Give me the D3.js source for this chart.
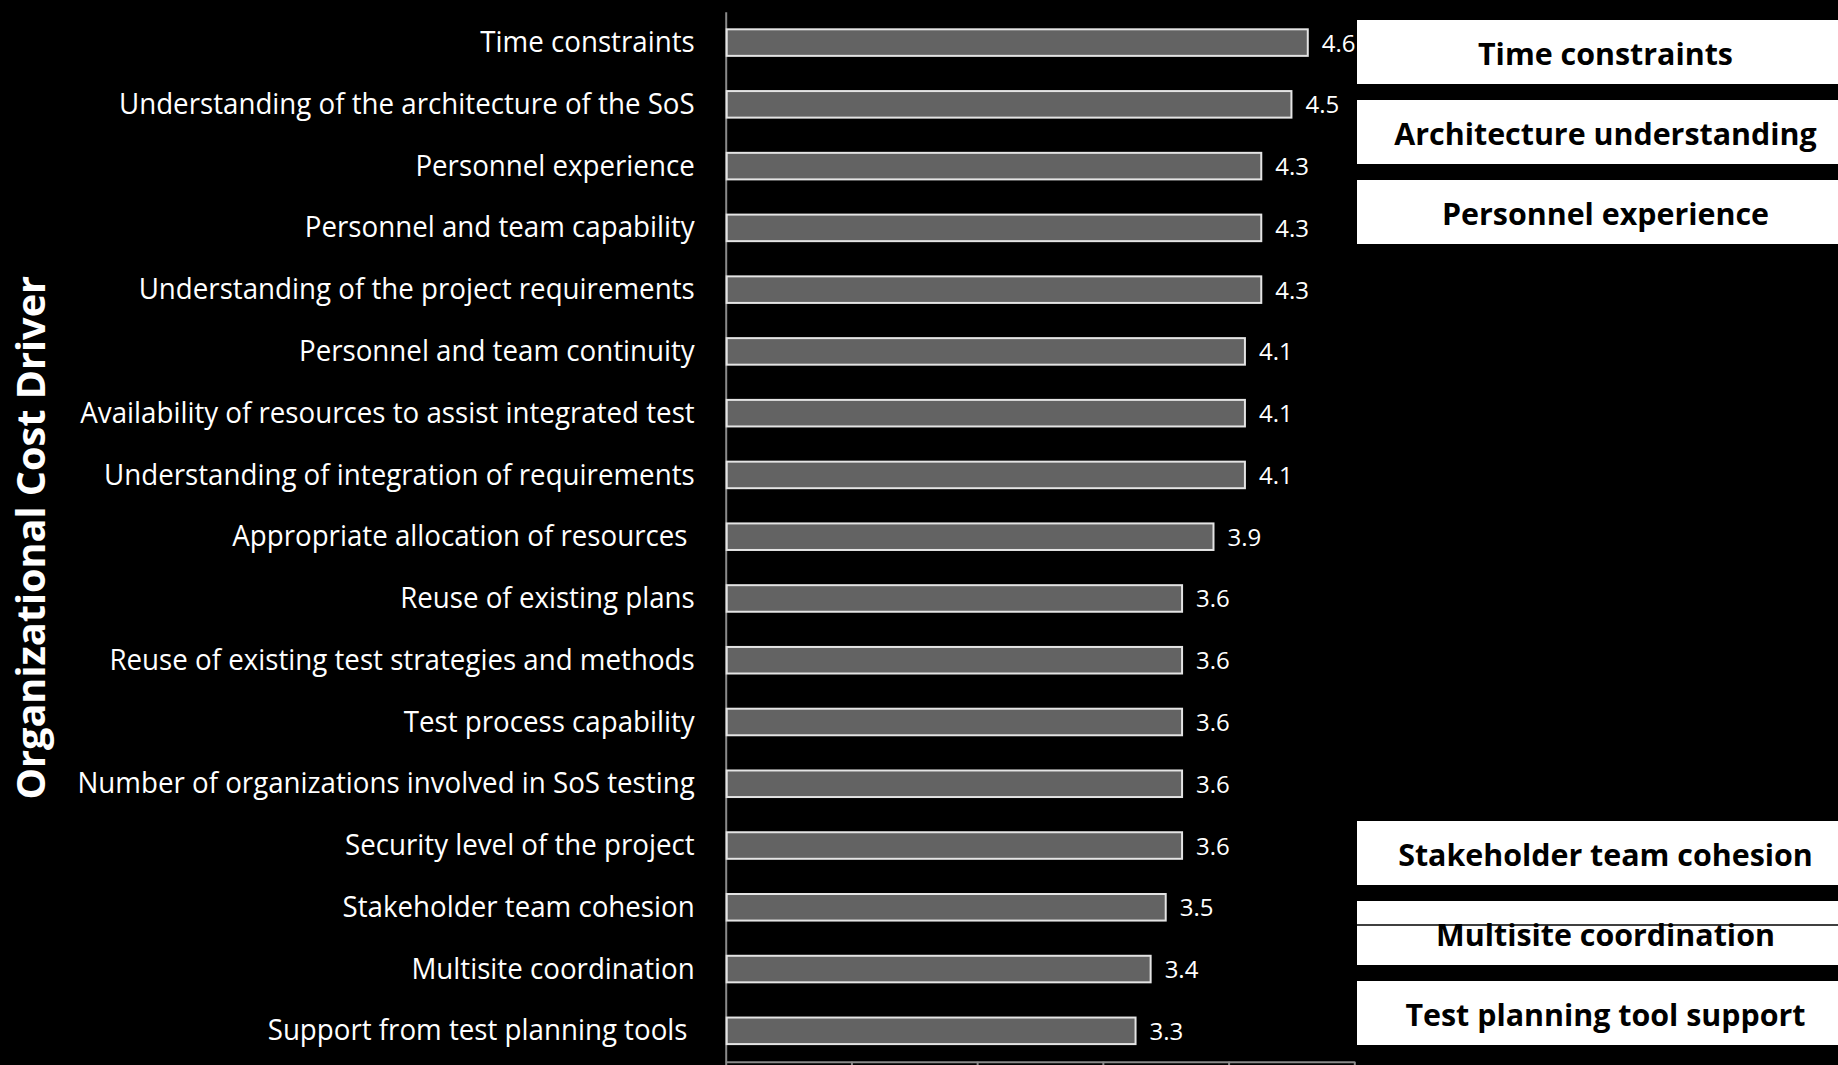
<!DOCTYPE html>
<html>
<head>
<meta charset="utf-8">
<script src="https://cdn.jsdelivr.net/npm/d3@7"></script>
<style>
  html, body { margin: 0; padding: 0; background: #000; overflow: hidden; }
  svg { display: block; }
</style>
</head>
<body>
<script>
// cost drivers, top to bottom
const categories = [
  "Time constraints",
  "Understanding of the architecture of the SoS",
  "Personnel experience",
  "Personnel and team capability",
  "Understanding of the project requirements",
  "Personnel and team continuity",
  "Availability of resources to assist integrated test",
  "Understanding of integration of requirements",
  "Appropriate allocation of resources ",
  "Reuse of existing plans",
  "Reuse of existing test strategies and methods",
  "Test process capability",
  "Number of organizations involved in SoS testing",
  "Security level of the project",
  "Stakeholder team cohesion",
  "Multisite coordination",
  "Support from test planning tools "
];
const values = [4.63, 4.50, 4.26, 4.26, 4.26, 4.13, 4.13, 4.13, 3.88,
  3.63, 3.63, 3.63, 3.63, 3.63, 3.50, 3.38, 3.26];
const xTicks = [0, 1, 2, 3, 4, 5];
const topDrivers = ["Time constraints", "Architecture understanding", "Personnel experience"];
const bottomDrivers = ["Stakeholder team cohesion", "Multisite coordination", "Test planning tool support"];
const yTitle = "Organizational Cost Driver";

const width = 1838,
  height = 1065;
const margin = { top: 11.7, left: 725.7, bottom: 1061.7, right: 1354.3 };

const svg = d3
  .select("body")
  .append("svg")
  .attr("width", width)
  .attr("height", height)
  .attr("viewBox", [0, 0, width, height])
  .style("background", "#000");

const data = categories.map((c, i) => ({ name: c, value: values[i] }));

const x = d3.scaleLinear().domain([0, 5]).range([margin.left, margin.right]);
const y = d3
  .scaleBand()
  .domain(categories)
  .range([margin.top, margin.bottom])
  .paddingInner(0.57)
  .paddingOuter(0.285);

// squeeze the substitute font a bit so it runs like Calibri
function condense(sel, k) {
  sel.each(function () {
    const w = this.getComputedTextLength();
    d3.select(this).attr("textLength", w * k).attr("lengthAdjust", "spacingAndGlyphs");
  });
}

// category labels via left axis
const yAxis = svg
  .append("g")
  .attr("transform", `translate(${margin.left},0)`)
  .call(d3.axisLeft(y).tickSize(0).tickPadding(31));
yAxis.select(".domain").attr("stroke", "#8a8a8a").attr("stroke-width", 2);
yAxis
  .selectAll("text")
  .attr("fill", "#fff")
  .attr("dy", "0.33em")
  .style("font-family", "'Open Sans', sans-serif")
  .style("font-size", "29px")
  .style("white-space", "pre")
  .call(condense, 0.955);

// bottom axis, ticks only (its labels sit below the frame)
const xAxis = svg
  .append("g")
  .attr("transform", `translate(0,${margin.bottom})`)
  .call(d3.axisBottom(x).tickValues(xTicks).tickSize(10).tickSizeOuter(0).tickFormat(""));
xAxis.select(".domain").attr("stroke", "#8a8a8a").attr("stroke-width", 2);
xAxis.selectAll("line").attr("stroke", "#8a8a8a").attr("stroke-width", 2);

// bars
svg
  .append("g")
  .selectAll("rect")
  .data(data)
  .join("rect")
  .attr("x", x(0) + 1)
  .attr("y", (d) => y(d.name))
  .attr("width", (d) => x(d.value) - x(0) - 1)
  .attr("height", y.bandwidth())
  .attr("fill", "#636363")
  .attr("stroke", "#e4e4e4")
  .attr("stroke-width", 2);

// value labels
svg
  .append("g")
  .selectAll("text")
  .data(data)
  .join("text")
  .attr("x", (d) => x(d.value) + 14)
  .attr("y", (d) => y(d.name) + y.bandwidth() / 2 + 9)
  .attr("fill", "#fff")
  .style("font-family", "'Open Sans', sans-serif")
  .style("font-size", "24px")
  .text((d) => d3.format(".1f")(d.value));

// axis title
svg
  .append("text")
  .attr("transform", `translate(45,${(margin.top + margin.bottom) / 2 + 1}) rotate(-90)`)
  .attr("text-anchor", "middle")
  .attr("fill", "#fff")
  .style("font-family", "'Open Sans', sans-serif")
  .style("font-weight", "bold")
  .style("font-size", "40px")
  .text(yTitle)
  .call(condense, 0.99);

// callout boxes on the right
const boxX = 1357,
  boxW = 497,
  boxH = 64,
  boxStep = 80;

function callouts(names, top) {
  const g = svg
    .append("g")
    .selectAll("g")
    .data(names)
    .join("g")
    .attr("transform", (d, i) => `translate(${boxX},${top + i * boxStep})`);
  g.append("rect").attr("width", boxW).attr("height", boxH).attr("fill", "#fff");
  g.append("text")
    .attr("x", boxW / 2)
    .attr("y", boxH / 2 + 13)
    .attr("text-anchor", "middle")
    .attr("fill", "#000")
    .style("font-family", "'Open Sans', sans-serif")
    .style("font-weight", "bold")
    .style("font-size", "31px")
    .text((d) => d)
    .call(condense, 0.98);
  return g;
}

callouts(topDrivers, 20);
const bottomBoxes = callouts(bottomDrivers, 821);

// stray rule across the middle box
bottomBoxes
  .filter((d, i) => i === 1)
  .append("line")
  .attr("x1", 0)
  .attr("x2", boxW)
  .attr("y1", 24)
  .attr("y2", 24)
  .attr("stroke", "#000")
  .attr("stroke-width", 1.5);
</script>
</body>
</html>
